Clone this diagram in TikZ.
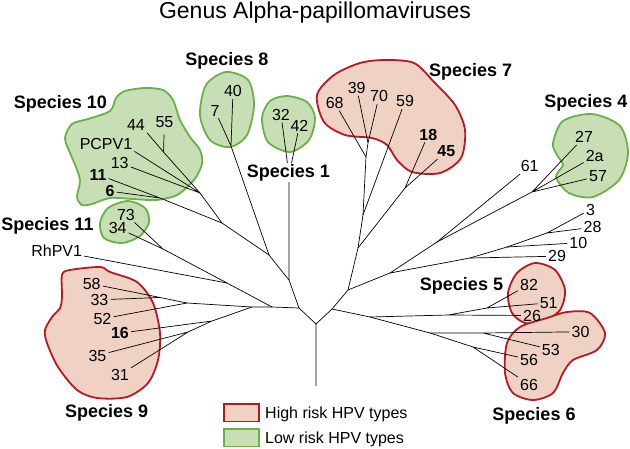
\documentclass[tikz,border=0pt]{standalone}
\usepackage{fontspec}
\setmainfont{Liberation Sans}
\usepackage{tikz}

\definecolor{hirisk}{RGB}{239,210,196}
\definecolor{hiline}{RGB}{186,24,34}
\definecolor{lorisk}{RGB}{200,222,180}
\definecolor{loline}{RGB}{108,176,76}

\tikzset{
    br/.style={line width=0.7pt},
    num/.style={font=\fontsize{16}{18}\selectfont, inner sep=2pt, anchor=base},
    bnum/.style={num, font=\fontsize{16}{18}\selectfont\bfseries},
    spc/.style={font=\fontsize{18}{20}\selectfont\bfseries, inner sep=2pt, anchor=base},
    hi/.style={draw=hiline, fill=hirisk, line width=1.8pt},
    lo/.style={draw=loline, fill=lorisk, line width=1.8pt}
}

\begin{document}
\begin{tikzpicture}[x=1pt,y=-1pt]
    \useasboundingbox (0,0) rectangle (630,448);

    % Draw species regions
    \draw[lo] plot[smooth cycle] coordinates {(65,138) (72,124) (88,119) (110,111) (116,98) (125,91) (145,88) (163,90) (173,100) (180,120) (190,137) (200,150) (202,164) (194,180) (177,195) (156,200) (133,199) (110,198) (92,204) (82,205) (77,197) (80,181) (76,167) (70,153)};
    \draw[lo] plot[smooth cycle] coordinates {(206,85) (226,72) (248,80) (254,105) (247,135) (230,147) (210,140) (200,115)};
    \draw[lo] plot[smooth cycle] coordinates {(262,118) (270,101) (287,96) (307,102) (315,118) (309,140) (290,152) (268,142)};
    \draw[lo] plot[smooth cycle] coordinates {(100,223) (108,208) (128,201) (145,208) (149,222) (140,236) (122,243) (104,238)};
    \draw[lo] plot[smooth cycle] coordinates {(553,143) (563,121) (592,114) (620,126) (628,153) (619,180) (593,197) (569,193) (556,177) (563,165) (557,155)};
    \draw[hi] plot[smooth cycle] coordinates {(317,95) (334,75) (360,63) (385,60) (414,63) (434,82) (455,105) (465,130) (461,158) (440,173) (412,172) (397,160) (387,145) (372,138) (345,135) (324,122)};
    \draw[hi] plot[smooth cycle] coordinates {(62,275) (70,270) (100,267) (110,272) (137,282) (153,303) (160,333) (158,360) (148,383) (127,397) (97,398) (77,390) (58,367) (47,343) (45,330) (52,317) (60,308) (62,297)};
    \draw[hi] plot[smooth cycle] coordinates {(508,293) (517,273) (535,263) (555,270) (565,290) (560,310) (543,322) (525,323) (512,313)};
    \draw[hi] plot[smooth cycle] coordinates {(507,343) (520,327) (547,318) (567,312) (590,313) (605,333) (597,350) (573,360) (563,373) (553,393) (533,400) (513,393) (505,373)};

    % tree points
    \coordinate (rb) at (316,386);
    \coordinate (rt) at (316,324);
    \coordinate (L0) at (299,308);
    \coordinate (R0) at (332,309);
    \coordinate (D) at (289,280);
    \coordinate (C) at (269,255);
    \coordinate (s1) at (289,175);
    \coordinate (s8) at (231,146);
    \coordinate (c10) at (222,223);
    \coordinate (c10b) at (200,193);
    \coordinate (c44) at (163.5,152);
    \coordinate (c611) at (160,198);
    \coordinate (L1) at (272,307);
    \coordinate (A) at (227,283);
    \coordinate (s11) at (163,249);
    \coordinate (B) at (252,307);
    \coordinate (c9a) at (187,303);
    \coordinate (c5833) at (160,297.5);
    \coordinate (c9b) at (212,321);
    \coordinate (c3531) at (188,332);
    \coordinate (R1) at (348,290);
    \coordinate (c7) at (358,248);
    \coordinate (c7b) at (363,215);
    \coordinate (c7a) at (366,157);
    \coordinate (c3970) at (368,143);
    \coordinate (c1845) at (405,188);
    \coordinate (G) at (390,273);
    \coordinate (E) at (437,242);
    \coordinate (s4) at (532,192);
    \coordinate (F1) at (470,258);
    \coordinate (F2) at (507,247);
    \coordinate (F3) at (547,233);
    \coordinate (H) at (370,317);
    \coordinate (c5) at (448,315);
    \coordinate (c5b) at (487,308);
    \coordinate (c6) at (430,333);
    \coordinate (c6j) at (483,333);
    \coordinate (c6k) at (473,347);

    % HPV types
    \node[num] (t40) at (233,96.7) {40};
    \node[num] (t7) at (215,116) {7};
    \node[num] (t32) at (281,120) {32};
    \node[num] (t42) at (299.5,131) {42};
    \node[num] (t44) at (136,130.7) {44};
    \node[num] (t55) at (164.5,127.3) {55};
    \node[num] (tPC) at (106,149) {PCPV1};
    \node[num] (t13) at (119.7,168.3) {13};
    \node[bnum] (t11) at (98,180) {11};
    \node[bnum] (t6) at (110,196.7) {6};
    \node[num] (t73) at (126,220) {73};
    \node[num] (t34) at (117.7,233.3) {34};
    \node[num] (tRh) at (56.7,256.7) {RhPV1};
    \node[num] (t39) at (356.7,93.3) {39};
    \node[num] (t68) at (334.7,108.3) {68};
    \node[num] (t70) at (379,101.7) {70};
    \node[num] (t59) at (405,106.7) {59};
    \node[bnum] (t18) at (428.3,140) {18};
    \node[bnum] (t45) at (446.3,156.7) {45};
    \node[num] (t27) at (584,142.7) {27};
    \node[num] (t2a) at (594.7,161.7) {2a};
    \node[num] (t57) at (598,181.7) {57};
    \node[num] (t61) at (529.7,171.7) {61};
    \node[num] (t3) at (590.5,215) {3};
    \node[num] (t28) at (592.5,232.7) {28};
    \node[num] (t10) at (578.3,248.3) {10};
    \node[num] (t29) at (557,261.7) {29};
    \node[num] (t82) at (529,290) {82};
    \node[num] (t51) at (548.7,308.3) {51};
    \node[num] (t26) at (532,321) {26};
    \node[num] (t30) at (580.5,337.3) {30};
    \node[num] (t53) at (550.8,355) {53};
    \node[num] (t56) at (529,365) {56};
    \node[num] (t66) at (529,390) {66};
    \node[num] (t58) at (91.7,289.3) {58};
    \node[num] (t33) at (99.5,305.3) {33};
    \node[num] (t52) at (102.5,324.3) {52};
    \node[bnum] (t16) at (120,338.7) {16};
    \node[num] (t35) at (97.5,361) {35};
    \node[num] (t31) at (120,380.3) {31};

    % Draw branches
    \draw[br] (rb) -- (rt) -- (L0) (rt) -- (R0);
    \draw[br] (L0) -- (D) -- (C) -- (s8) -- (t40) (s8) -- (t7);
    \draw[br] (D) -- (s1) -- (t32) (s1) -- (t42);
    \draw[br] (C) -- (c10) -- (c10b) -- (c44) -- (t44.south east);
    \draw[br,shorten >=5pt] (c44) -- (t55);
    \draw[br] (c10b) -- (tPC.south east) (c10b) -- (t13);
    \draw[br] (c10) -- (c611) -- (t11) (c611) -- (t6);
    \draw[br] (L0) -- (L1) -- (A) -- (s11) -- (t73) (s11) -- (t34);
    \draw[br] (A) -- (tRh);
    \draw[br] (L1) -- (B) -- (c9a) -- (c5833) -- (t58) (c5833) -- (t33);
    \draw[br] (c9a) -- (t52);
    \draw[br] (B) -- (c9b) -- (t16) (c9b) -- (c3531) -- (t35) (c3531) -- (t31);

    \draw[br] (R0) -- (R1) -- (c7) -- (c7b) -- (c7a) -- (t68);
    \draw[br] (c7a) -- (c3970) -- (t39) (c3970) -- (t70);
    \draw[br] (c7b) -- (t59);
    \draw[br] (c7) -- (c1845) -- (t18) (c1845) -- (t45);
    \draw[br] (R1) -- (G) -- (E) -- (s4) -- (t27) (s4) -- (t2a) (s4) -- (t57);
    \draw[br] (E) -- (t61);
    \draw[br] (G) -- (F1) -- (F2) -- (F3) -- (t3) (F3) -- (t28);
    \draw[br] (F2) -- (t10) (F1) -- (t29);
    \draw[br] (R0) -- (H) -- (c5) -- (t26) (c5) -- (c5b) -- (t82) (c5b) -- (t51);
    \draw[br] (H) -- (c6) -- (c6j) -- (t30) (c6j) -- (t53);
    \draw[br] (c6) -- (c6k) -- (t56) (c6k) -- (t66);

    % species names
    \node[spc] (sp10) at (60.5,108.5) {Species 10};
    \node[spc] (sp8) at (227,65) {Species 8};
    \node[spc] (sp11) at (47.5,230) {Species 11};
    \node[spc,fill=white,inner sep=1pt] (sp1) at (288.3,177) {Species 1};
    \node[spc] (sp7) at (470.7,76.7) {Species 7};
    \node[spc] (sp4) at (585.8,107.7) {Species 4};
    \node[spc] (sp5) at (461.5,290) {Species 5};
    \node[spc] (sp6) at (534,420.7) {Species 6};
    \node[spc] (sp9) at (106.7,417.3) {Species 9};

    \node[font=\fontsize{23}{26}\selectfont,anchor=base] (title) at (315,18.5) {Genus Alpha-papillomaviruses};

    % legend
    \node[hi,line width=1.3pt,minimum width=35pt,minimum height=17.7pt,inner sep=0pt,anchor=north west] (khi) at (223.3,403.3) {};
    \node[lo,line width=1.3pt,minimum width=35pt,minimum height=17.4pt,inner sep=0pt,anchor=north west] (klo) at (223.3,428.3) {};
    \node[font=\fontsize{16}{18}\selectfont,anchor=base west,inner sep=0pt] (lhi) at (265,418.3) {High risk HPV types};
    \node[font=\fontsize{16}{18}\selectfont,anchor=base west,inner sep=0pt] (llo) at (265,443.3) {Low risk HPV types};
\end{tikzpicture}
\end{document}
